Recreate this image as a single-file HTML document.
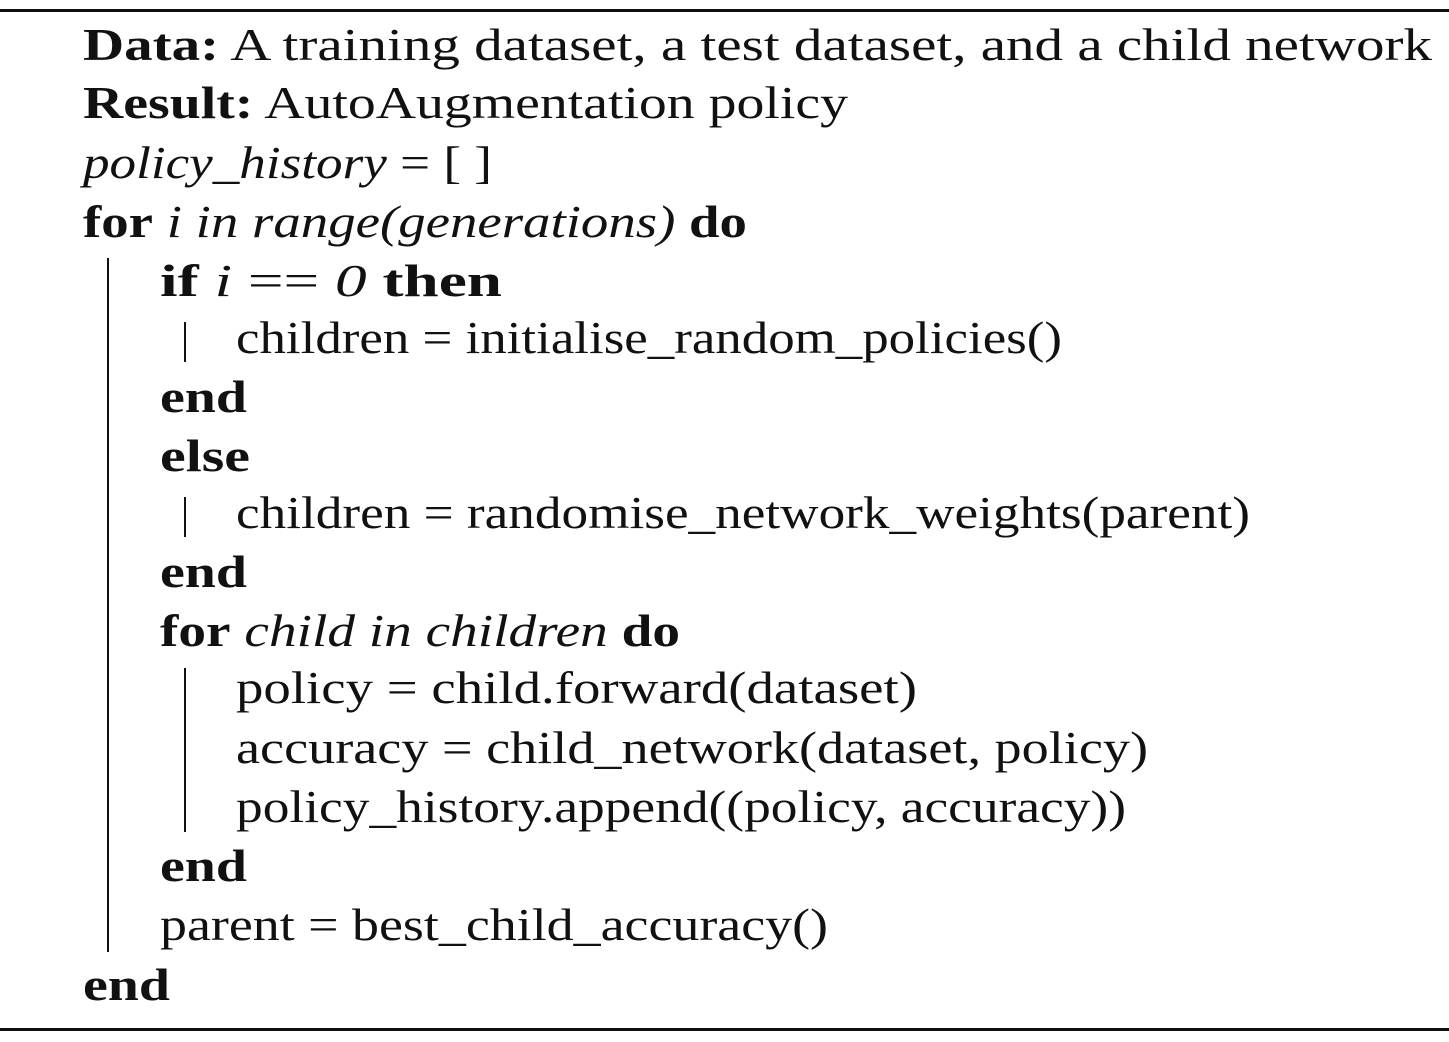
<!DOCTYPE html>
<html><head><meta charset="utf-8"><style>
html,body{margin:0;padding:0;background:#fff;}
svg{display:block;}
text{font-family:"Liberation Serif",serif;font-size:46px;fill:#111;}
.b{font-weight:bold;}
.i{font-style:italic;}
</style></head><body>
<svg width="1449" height="1042" viewBox="0 0 1449 1042">
<rect x="0" y="9" width="1449" height="3" fill="#111"/>
<rect x="0" y="1028" width="1449" height="3" fill="#111"/>
<rect x="107" y="258" width="2" height="694" fill="#111"/>
<rect x="184" y="322" width="2" height="40" fill="#111"/>
<rect x="184" y="497" width="2" height="40" fill="#111"/>
<rect x="184" y="668" width="2" height="164" fill="#111"/>

<text x="83" y="60" textLength="1349" lengthAdjust="spacingAndGlyphs"><tspan class="b">Data:</tspan> A training dataset, a test dataset, and a child network</text>
<text x="83" y="118" textLength="765" lengthAdjust="spacingAndGlyphs"><tspan class="b">Result:</tspan> AutoAugmentation policy</text>
<text x="83" y="178" textLength="409" lengthAdjust="spacingAndGlyphs"><tspan class="i">policy_history</tspan> = [ ]</text>
<text x="83" y="237" textLength="664" lengthAdjust="spacingAndGlyphs"><tspan class="b">for</tspan> <tspan class="i">i in range(generations)</tspan> <tspan class="b">do</tspan></text>
<text x="160" y="296" textLength="342" lengthAdjust="spacingAndGlyphs"><tspan class="b">if</tspan> <tspan class="i">i</tspan> == <tspan class="i">0</tspan> <tspan class="b">then</tspan></text>
<text x="236" y="353" textLength="826" lengthAdjust="spacingAndGlyphs">children = initialise_random_policies()</text>
<text x="160" y="412" textLength="87" lengthAdjust="spacingAndGlyphs" class="b">end</text>
<text x="160" y="471" textLength="90" lengthAdjust="spacingAndGlyphs" class="b">else</text>
<text x="236" y="528" textLength="1014" lengthAdjust="spacingAndGlyphs">children = randomise_network_weights(parent)</text>
<text x="160" y="587" textLength="87" lengthAdjust="spacingAndGlyphs" class="b">end</text>
<text x="160" y="646" textLength="520" lengthAdjust="spacingAndGlyphs"><tspan class="b">for</tspan> <tspan class="i">child in children</tspan> <tspan class="b">do</tspan></text>
<text x="236" y="703" textLength="681" lengthAdjust="spacingAndGlyphs">policy = child.forward(dataset)</text>
<text x="236" y="763" textLength="912" lengthAdjust="spacingAndGlyphs">accuracy = child_network(dataset, policy)</text>
<text x="236" y="822" textLength="890" lengthAdjust="spacingAndGlyphs">policy_history.append((policy, accuracy))</text>
<text x="160" y="881" textLength="87" lengthAdjust="spacingAndGlyphs" class="b">end</text>
<text x="160" y="940" textLength="668" lengthAdjust="spacingAndGlyphs">parent = best_child_accuracy()</text>
<text x="83" y="1000" textLength="87" lengthAdjust="spacingAndGlyphs" class="b">end</text>
</svg>
</body></html>
